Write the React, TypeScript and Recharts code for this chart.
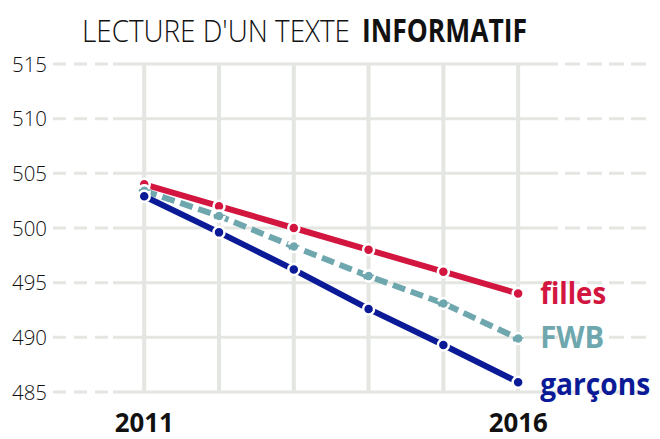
import React from 'react';
import { LineChart, Line, XAxis, YAxis, ReferenceLine } from 'recharts';

const years = [2011, 2012, 2013, 2014, 2015, 2016];
const filles = [504, 502, 500, 498, 496, 494];
const fwb = [503.4, 501.1, 498.3, 495.6, 493.1, 489.9];
const garcons = [502.9, 499.6, 496.2, 492.6, 489.3, 485.9];
const yTicks = [485, 490, 495, 500, 505, 510, 515];
const xTicks = [2011, 2016];
const seriesNames = { filles: 'filles', fwb: 'FWB', garcons: 'garçons' };
const titleLight = "LECTURE D'UN TEXTE";
const titleBold = 'INFORMATIF';

const data = years.map((y, i) => ({ year: y, filles: filles[i], fwb: fwb[i], garcons: garcons[i] }));

const GRID = '#e4e6e1';
const RED = '#d2163f';
const TEAL = '#6fa7ae';
const NAVY = '#0b1a96';
const FONT = '"Open Sans", sans-serif';

const X_MIN = 2009.78;
const X_MAX = 2017.79;
const DASH_LEFT = 60;
const DASH_RIGHT = 109;

const HGrid = (p: any) => {
  const { x1, x2, y1 } = p;
  if (x1 == null || y1 == null) return null;
  const a = Math.min(x1, x2);
  const b = Math.max(x1, x2);
  return (
    <g>
      <line x1={a} x2={a + DASH_LEFT} y1={y1} y2={y1} stroke={GRID} strokeWidth={3} strokeDasharray="13 8" />
      <line x1={a + DASH_LEFT} x2={b - DASH_RIGHT} y1={y1} y2={y1} stroke={GRID} strokeWidth={3} />
      <line x1={b - DASH_RIGHT} x2={b} y1={y1} y2={y1} stroke={GRID} strokeWidth={3} strokeDasharray="15 7" />
    </g>
  );
};

const makeLabel = (text: string, color: string, dy: number, len: number) => (props: any) => {
  const { x, y, index } = props;
  if (index !== years.length - 1) return null;
  return (
    <text
      x={x + 22}
      y={y + dy}
      fill={color}
      fontFamily={FONT}
      fontWeight={700}
      fontSize={30}
      textLength={len}
      lengthAdjust="spacingAndGlyphs"
    >
      {text}
    </text>
  );
};

const XTick = (props: any) => {
  const { x, y, payload } = props;
  return (
    <text
      x={x - 29.5}
      y={y + 40}
      fill="#111"
      fontFamily={FONT}
      fontWeight={700}
      fontSize={27}
      textLength={59}
      lengthAdjust="spacingAndGlyphs"
    >
      {payload.value}
    </text>
  );
};

const YTick = (props: any) => {
  const { x, y, payload } = props;
  return (
    <text
      x={x}
      y={y}
      dy="0.36em"
      textAnchor="end"
      fill="#111"
      fontFamily={FONT}
      fontSize={21}
      fontWeight={300}
      textLength={35}
      lengthAdjust="spacingAndGlyphs"
    >
      {payload.value}
    </text>
  );
};

const dot = (color: string) => ({ r: 5.5, fill: color, stroke: '#ffffff', strokeWidth: 2.5 });

export default function App() {
  return (
    <div style={{ position: 'absolute', left: 0, top: 0, width: 660, height: 439, background: '#fff' }}>
      <svg width={660} height={50} style={{ position: 'absolute', left: 0, top: 0 }}>
        <g transform="translate(82,42) scale(0.86,1)">
          <text
            x={0}
            y={0}
            fontFamily={FONT}
            fontSize={32}
            fontWeight={300}
            fill="#111"
            textLength={311.6}
            lengthAdjust="spacingAndGlyphs"
          >
            {titleLight}
          </text>
        </g>
        <g transform="translate(362,42) scale(0.9,1)">
          <text
            x={0}
            y={0}
            fontFamily={FONT}
            fontSize={32}
            fontWeight={700}
            fill="#111"
            textLength={183.3}
            lengthAdjust="spacingAndGlyphs"
          >
            {titleBold}
          </text>
        </g>
      </svg>
      <div style={{ position: 'absolute', left: 0, top: 0 }}>
        <LineChart width={660} height={439} data={data} margin={{ top: 64, right: 8, bottom: 0, left: 0 }}>
          {yTicks.map((t) => (
            <ReferenceLine key={'h' + t} y={t} shape={(p: any) => <HGrid {...p} />} />
          ))}
          {years.map((yr) => (
            <ReferenceLine key={'v' + yr} x={yr} stroke={GRID} strokeWidth={4} />
          ))}
          <XAxis
            dataKey="year"
            type="number"
            domain={[X_MIN, X_MAX]}
            ticks={xTicks}
            axisLine={false}
            tickLine={false}
            tickSize={0}
            tickMargin={0}
            height={47}
            allowDataOverflow
            tick={<XTick />}
          />
          <YAxis
            type="number"
            domain={[485, 515]}
            ticks={yTicks}
            axisLine={false}
            tickLine={false}
            tickSize={0}
            tickMargin={6}
            width={53}
            tick={<YTick />}
          />
          <Line
            dataKey="filles"
            stroke={RED}
            strokeWidth={6}
            dot={dot(RED)}
            activeDot={false}
            isAnimationActive={false}
            label={makeLabel(seriesNames.filles, RED, 10, 66)}
          />
          <Line
            dataKey="fwb"
            stroke={TEAL}
            strokeWidth={6}
            strokeDasharray="13 6"
            dot={dot(TEAL)}
            activeDot={false}
            isAnimationActive={false}
            label={makeLabel(seriesNames.fwb, TEAL, 10, 64)}
          />
          <Line
            dataKey="garcons"
            stroke={NAVY}
            strokeWidth={6}
            dot={dot(NAVY)}
            activeDot={false}
            isAnimationActive={false}
            label={makeLabel(seriesNames.garcons, NAVY, 13, 110)}
          />
        </LineChart>
      </div>
    </div>
  );
}
